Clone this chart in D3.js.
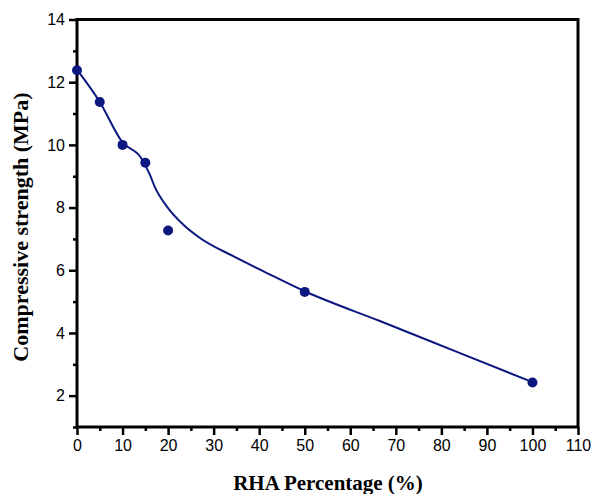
<!DOCTYPE html>
<html>
<head>
<meta charset="utf-8">
<script src="https://cdn.jsdelivr.net/npm/d3@7"></script>
<style>
  body { margin: 0; background: #fff; }
</style>
</head>
<body>
<div class="vis-chart"></div>
<script>
// measured points
const rhaPct = [0, 5, 10, 15, 20, 50, 100];
const strength = [12.38, 11.37, 10.0, 9.43, 7.27, 5.31, 2.42];

// fitted curve
const fitX = [0, 5, 10, 14, 16, 17.1, 19.7, 23.3, 27, 34.3, 41.6, 50, 66.5, 83, 100];
const fitY = [12.4, 11.37, 10.08, 9.6, 9.05, 8.65, 8.04, 7.46, 7.03, 6.45, 5.92, 5.33, 4.38, 3.42, 2.43];

const xTicks = [0, 10, 20, 30, 40, 50, 60, 70, 80, 90, 100, 110];
const yTicks = [2, 4, 6, 8, 10, 12, 14];

const width = 591, height = 494;
const margin = { top: 19.5, right: 13, bottom: 67, left: 77 };

const svg = d3.select(".vis-chart")
    .append("svg")
    .attr("width", width)
    .attr("height", height);

const x = d3.scaleLinear().domain([0, 110]).range([margin.left, width - margin.right]);
const y = d3.scaleLinear().domain([1, 14]).range([height - margin.bottom, margin.top]);

const navy = "#0d1780";

// minor ticks
const xMinor = d3.range(5, 110, 10);
const yMinor = d3.range(1, 14, 2);

// X axis
svg.append("g")
    .attr("transform", "translate(0," + y(1) + ")")
    .call(d3.axisBottom(x).tickValues(xTicks).tickSize(8).tickPadding(5));
svg.append("g")
    .attr("transform", "translate(0," + y(1) + ")")
    .call(d3.axisBottom(x).tickValues(xMinor).tickSize(4).tickFormat(""));

// Y axis
svg.append("g")
    .attr("transform", "translate(" + x(0) + ",0)")
    .call(d3.axisLeft(y).tickValues(yTicks).tickSize(8).tickPadding(4));
svg.append("g")
    .attr("transform", "translate(" + x(0) + ",0)")
    .call(d3.axisLeft(y).tickValues(yMinor).tickSize(4).tickFormat(""));

svg.selectAll(".domain").remove();
svg.selectAll(".tick line")
    .attr("stroke", "#000")
    .attr("stroke-width", 2.5);
svg.selectAll(".tick text")
    .attr("font-family", "Liberation Sans, Arial, sans-serif")
    .attr("font-size", 16)
    .attr("fill", "#000");

// frame
svg.append("rect")
    .attr("x", x(0))
    .attr("y", y(14))
    .attr("width", x(110) - x(0))
    .attr("height", y(1) - y(14))
    .attr("fill", "none")
    .attr("stroke", "#000")
    .attr("stroke-width", 3);

// fitted curve
const fit = fitX.map((d, i) => ({ x: d, y: fitY[i] }));
svg.append("path")
    .datum(fit)
    .attr("fill", "none")
    .attr("stroke", navy)
    .attr("stroke-width", 2)
    .attr("d", d3.line()
        .x(d => x(d.x))
        .y(d => y(d.y))
        .curve(d3.curveMonotoneX));

// points
svg.append("g")
    .selectAll("circle")
    .data(rhaPct)
    .join("circle")
    .attr("cx", d => x(d))
    .attr("cy", (d, i) => y(strength[i]))
    .attr("r", 5)
    .attr("fill", navy);

// axis titles
svg.append("text")
    .attr("x", 328)
    .attr("y", 490)
    .attr("text-anchor", "middle")
    .attr("font-family", "Liberation Serif, Times New Roman, serif")
    .attr("font-weight", "bold")
    .attr("font-size", 21)
    .text("RHA Percentage (%)");

svg.append("text")
    .attr("transform", "translate(28,227) rotate(-90)")
    .attr("text-anchor", "middle")
    .attr("font-family", "Liberation Serif, Times New Roman, serif")
    .attr("font-weight", "bold")
    .attr("font-size", 22)
    .text("Compressive strength (MPa)");
</script>
</body>
</html>
